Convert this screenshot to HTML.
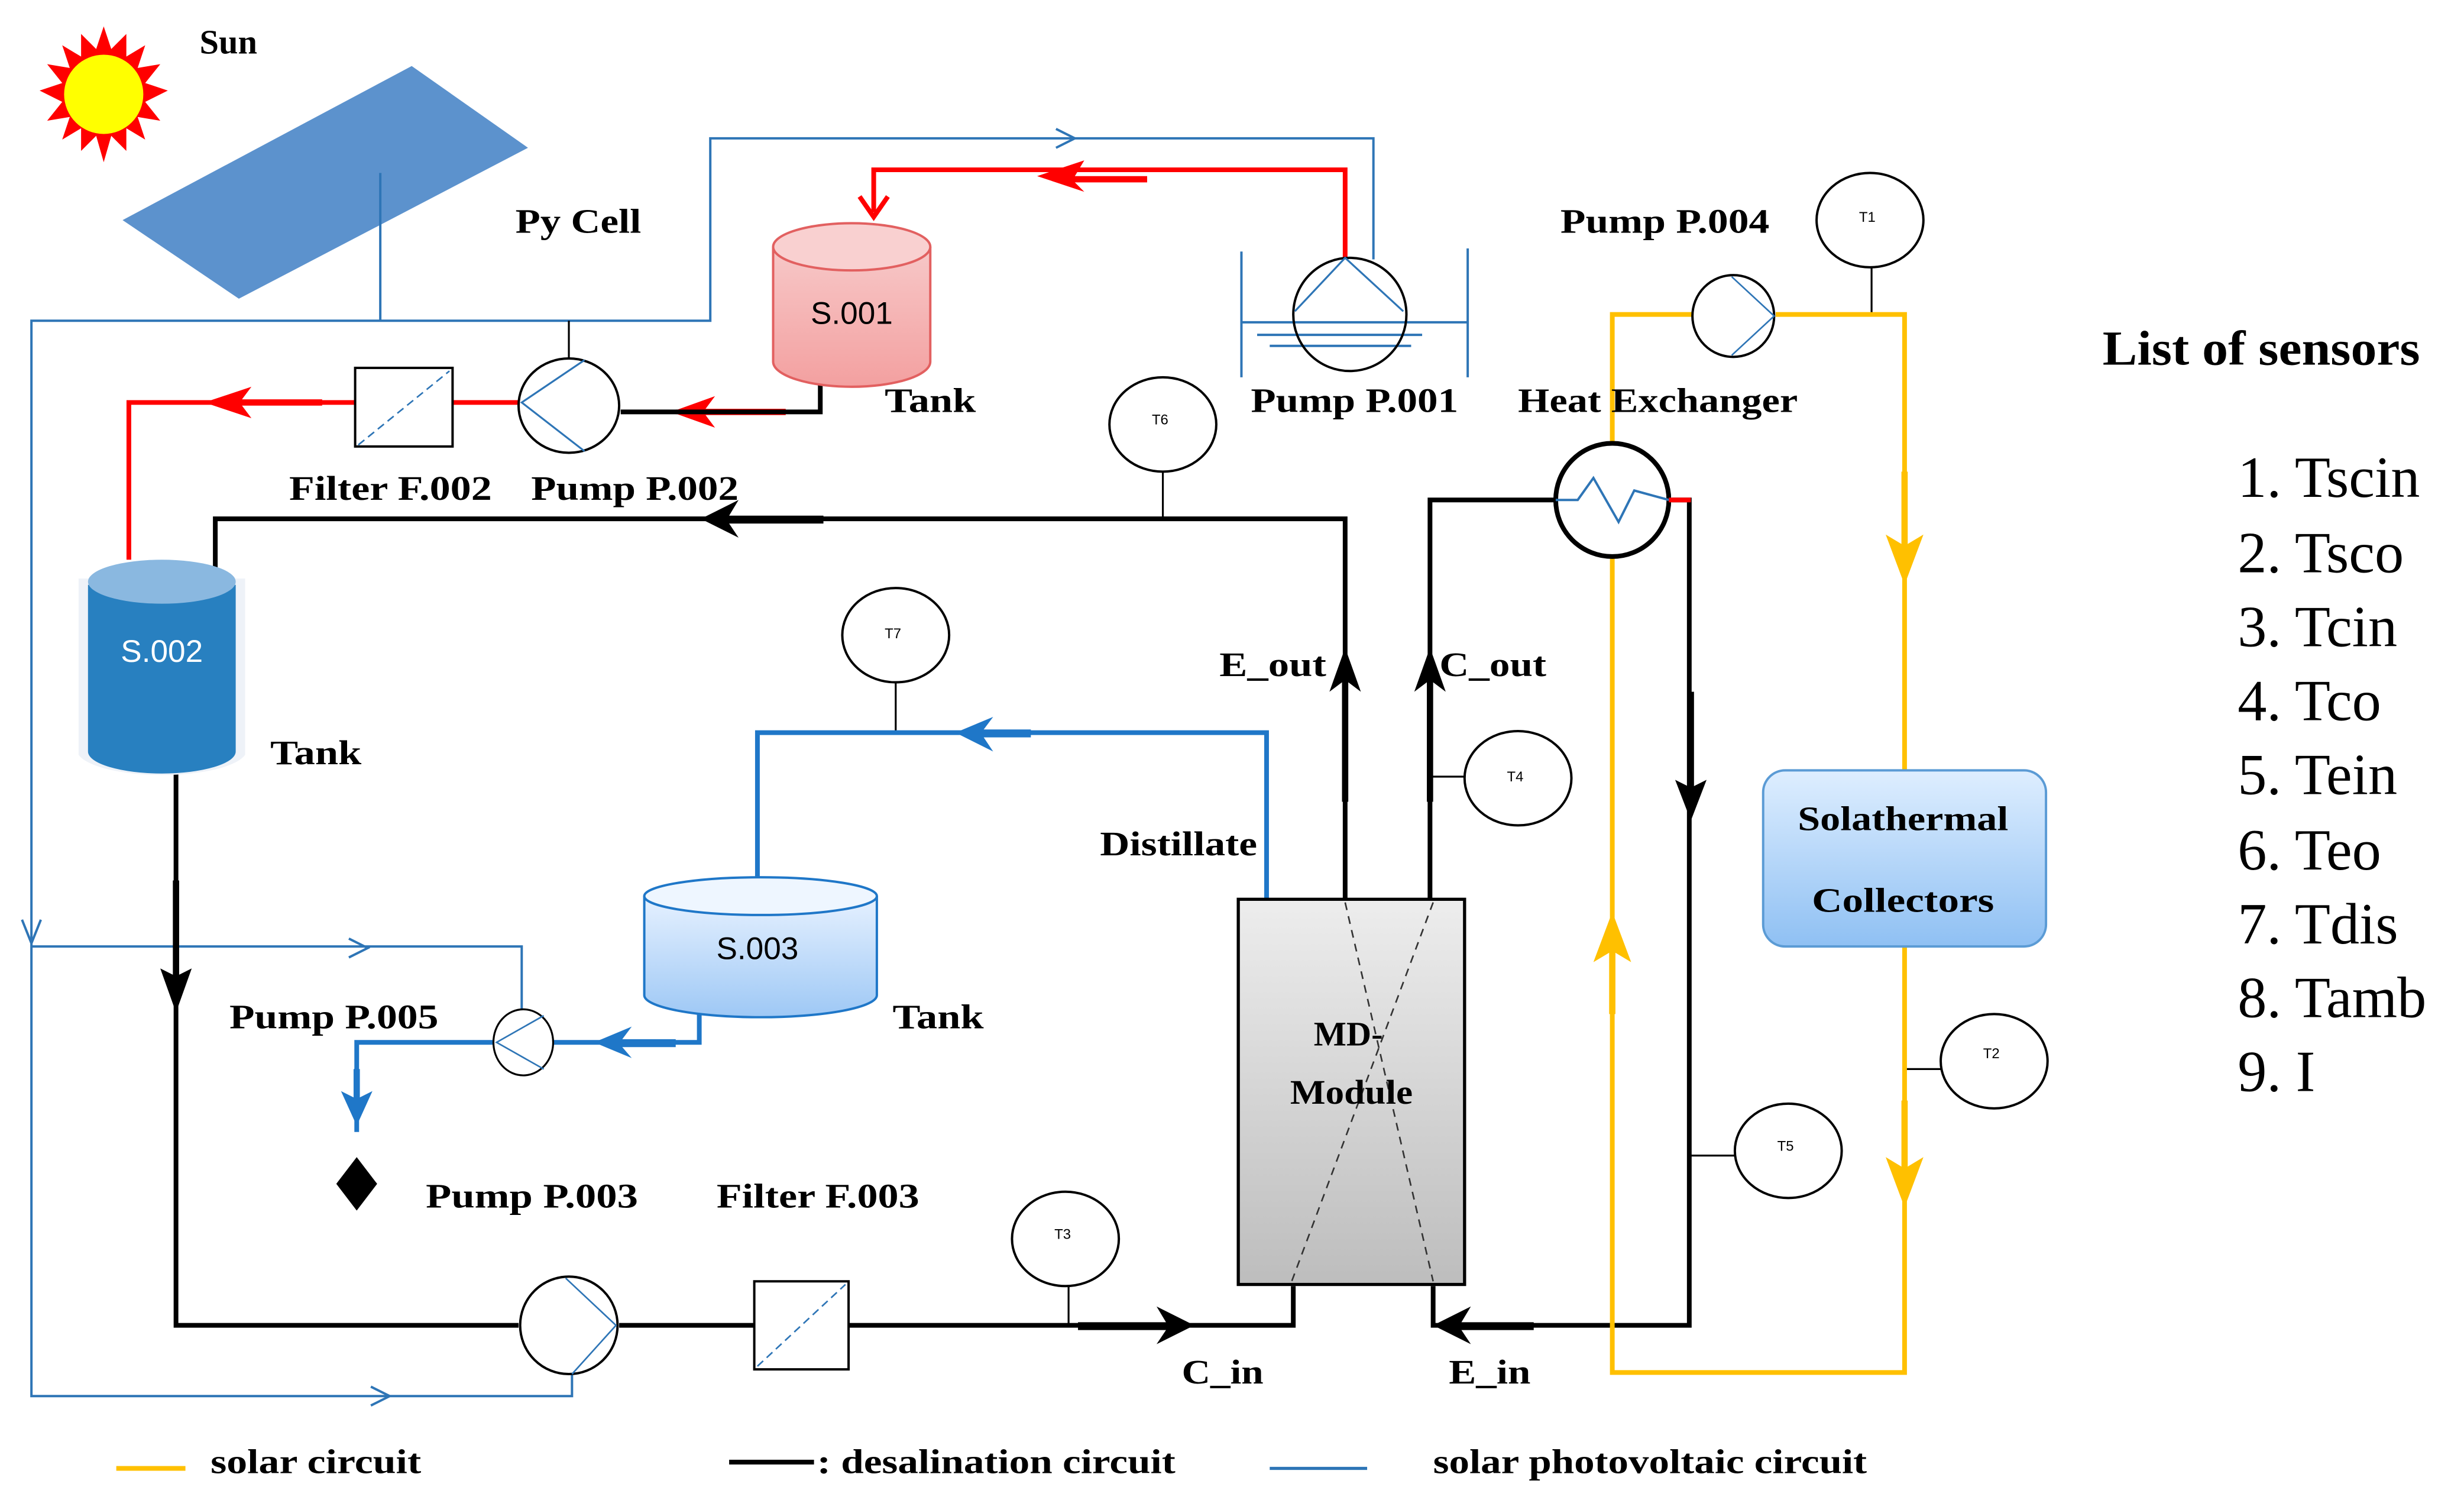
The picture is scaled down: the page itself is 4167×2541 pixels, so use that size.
<!DOCTYPE html>
<html><head><meta charset="utf-8"><style>
html,body{margin:0;padding:0;background:#fff;}
svg{display:block;}
.t{font-family:"Liberation Serif",serif;font-weight:bold;font-size:22px;fill:#000;}
.s{font-family:"Liberation Sans",sans-serif;font-size:9px;fill:#000;}
.l{font-family:"Liberation Serif",serif;font-size:37px;fill:#000;}
</style></head><body>
<svg width="4167" height="2541" viewBox="0 0 1568 956" preserveAspectRatio="none" xmlns="http://www.w3.org/2000/svg">
<defs>
<linearGradient id="gr" x1="0" y1="0" x2="0" y2="1"><stop offset="0" stop-color="#f7c8c8"/><stop offset="1" stop-color="#f3a0a0"/></linearGradient>
<linearGradient id="gb" x1="0" y1="0" x2="0" y2="1"><stop offset="0" stop-color="#e6f1ff"/><stop offset="1" stop-color="#9ec8f5"/></linearGradient>
<linearGradient id="gc" x1="0" y1="0" x2="0" y2="1"><stop offset="0" stop-color="#deeeff"/><stop offset="1" stop-color="#8fc0f3"/></linearGradient>
<linearGradient id="gm" x1="0" y1="0" x2="0" y2="1"><stop offset="0" stop-color="#ededed"/><stop offset="1" stop-color="#bdbdbd"/></linearGradient>
</defs>
<!-- Sun -->
<g transform="translate(66,60) scale(1.2) translate(-66,-56)">
<polygon fill="#f00" points="66,20 70,32 78,24 78,36 88,30 84,42 96,40 88,50 100,54 88,60 96,70 84,68 88,80 78,74 78,86 70,78 66,92 62,78 54,86 54,74 44,80 48,68 36,70 44,60 32,54 44,50 36,40 48,42 44,30 54,36 54,24 62,32"/>
<circle cx="66" cy="56" r="21" fill="#ff0"/>
</g>
<text class="t" x="127" y="34">Sun</text>
<!-- PV panel -->
<polygon points="262,42 336,94 152,190 78,140" fill="#4a86c8" opacity="0.9"/>
<text class="t" x="328" y="148" textLength="80" lengthAdjust="spacingAndGlyphs">Py Cell</text>
<!-- PV blue circuit -->
<g stroke="#2e75b6" stroke-width="1.5" fill="none">
<polyline points="242,110 242,204"/>
<polyline points="20,600 20,204 452,204 452,88 874,88 874,165"/>
<polyline points="20,600 20,888 364,888 364,870"/>
<polyline points="20,602 332,602 332,645"/>
<polyline points="672,82 684,88 672,94"/>
<polyline points="222,597 234,603 222,609"/>
<polyline points="236,882 248,888 236,894"/>
<polyline points="14,585 20,600 26,585"/>
<line x1="790" y1="160" x2="790" y2="240"/><line x1="934" y1="158" x2="934" y2="240"/>
<line x1="790" y1="205" x2="934" y2="205"/><line x1="800" y1="213" x2="905" y2="213"/><line x1="808" y1="220" x2="898" y2="220"/>
</g>
<line x1="362" y1="204" x2="362" y2="228" stroke="#000" stroke-width="1.2"/>
<!-- Red circuit -->
<g stroke="#f00" stroke-width="3" fill="none">
<polyline points="856,165 856,108 556,108 556,135"/>
<polyline points="547,125 556,138 565,125"/>
<polyline points="330,256 288,256"/><polyline points="226,256 82,256 82,356"/>
<polyline points="500,262 430,262"/>
</g>
<polygon points="660,112 690,102 684,112 730,112 730,116 684,116 690,122" fill="#f00"/>
<polygon points="130,256 160,246 154,254 205,254 205,258 154,258 160,266" fill="#f00"/>
<polygon points="427,262 455,252 449,260 500,260 500,264 449,264 455,272" fill="#f00"/>
<polyline points="395,262 522,262 522,245" stroke="#000" stroke-width="3" fill="none"/>
<!-- Tank S.001 -->
<path d="M492,157 L492,230 A50,16 0 0 0 592,230 L592,157" fill="url(#gr)" stroke="#e26060" stroke-width="1.5"/>
<ellipse cx="542" cy="157" rx="50" ry="15" fill="#f9d0d0" stroke="#e26060" stroke-width="1.5"/>
<text x="542" y="206" text-anchor="middle" style="font-family:'Liberation Sans',sans-serif;font-size:20px">S.001</text>
<text class="t" x="563" y="262" textLength="58" lengthAdjust="spacingAndGlyphs">Tank</text>
<!-- Pump P.001 -->
<ellipse cx="859" cy="200" rx="36" ry="36" fill="none" stroke="#000" stroke-width="1.5"/>
<polyline points="824,198 856,164 893,198" fill="none" stroke="#2e75b6" stroke-width="1.2"/>
<text class="t" x="796" y="262" textLength="132" lengthAdjust="spacingAndGlyphs">Pump P.001</text>
<!-- Filter F.002 + Pump P.002 -->
<rect x="226" y="234" width="62" height="50" fill="#fff" stroke="#000" stroke-width="1.5"/>
<line x1="228" y1="283" x2="286" y2="236" stroke="#2e75b6" stroke-dasharray="5,3"/>
<ellipse cx="362" cy="258" rx="32" ry="30" fill="#fff" stroke="#000" stroke-width="1.5"/>
<polyline points="372,229 332,256 372,287" fill="none" stroke="#2e75b6" stroke-width="1.2"/>
<text class="t" x="184" y="318" textLength="129" lengthAdjust="spacingAndGlyphs">Filter F.002</text>
<text class="t" x="338" y="318" textLength="132" lengthAdjust="spacingAndGlyphs">Pump P.002</text>
<!-- Black desal circuit -->
<g stroke="#000" stroke-width="3" fill="none">
<polyline points="137,362 137,330 856,330 856,572"/>
<polyline points="910,572 910,318 990,318"/>
<polyline points="112,490 112,843 330,843"/>
<polyline points="394,843 480,843"/><polyline points="540,843 750,843 823,843 823,818"/>
<polyline points="912,818 912,843 1075,843 1075,505"/>
<polyline points="1064,318 1075,318 1075,500"/>
</g>
<line x1="740" y1="300" x2="740" y2="330" stroke="#000" stroke-width="1.2"/>
<polygon points="446,330 470,318 464,328 524,328 524,333 464,333 470,342" fill="#000"/>
<polygon points="856,412 846,440 854,434 854,510 858,510 858,434 866,440" fill="#000"/>
<polygon points="910,412 900,440 908,434 908,510 912,510 912,434 920,440" fill="#000"/>
<polygon points="112,644 102,616 110,620 110,560 114,560 114,620 122,616" fill="#000"/>
<polygon points="1076,522 1066,496 1074,500 1074,440 1078,440 1078,500 1086,496" fill="#000"/>
<polygon points="760,843 736,831 742,841 686,841 686,846 742,846 736,855" fill="#000"/>
<polygon points="912,843 936,831 930,841 976,841 976,846 930,846 936,855" fill="#000"/>
<line x1="910" y1="494" x2="934" y2="494" stroke="#000" stroke-width="1.2"/>
<line x1="1075" y1="735" x2="1104" y2="735" stroke="#000" stroke-width="1.2"/>
<line x1="1212" y1="680" x2="1236" y2="680" stroke="#000" stroke-width="1.2"/>
<line x1="680" y1="815" x2="680" y2="843" stroke="#000" stroke-width="1.2"/>
<line x1="570" y1="432" x2="570" y2="466" stroke="#000" stroke-width="1.2"/>
<line x1="1191" y1="170" x2="1191" y2="200" stroke="#000" stroke-width="1.2"/>
<!-- Tank S.002 -->
<path d="M50,368 L50,480 A54,16 0 0 0 156,480 L156,368" fill="#eef2f8"/>
<path d="M56,372 L56,478 A47,14 0 0 0 150,478 L150,372" fill="#2880c0"/>
<ellipse cx="103" cy="370" rx="47" ry="14" fill="#8ab8e0"/>
<text x="103" y="421" text-anchor="middle" style="font-family:'Liberation Sans',sans-serif;font-size:20px;fill:#fff">S.002</text>
<text class="t" x="172" y="486" textLength="58" lengthAdjust="spacingAndGlyphs">Tank</text>
<!-- Blue distillate -->
<g stroke="#1f77c8" stroke-width="3" fill="none">
<polyline points="806,572 806,466 482,466 482,560"/>
<polyline points="445,645 445,663 352,663"/>
<polyline points="314,663 227,663 227,720"/>
</g>
<polygon points="608,466 632,456 626,464 656,464 656,469 626,469 632,478" fill="#1f77c8"/>
<polygon points="378,663 402,653 396,661 430,661 430,666 396,666 402,673" fill="#1f77c8"/>
<polygon points="227,716 217,694 225,698 225,680 229,680 229,698 237,694" fill="#1f77c8"/>
<!-- Tank S.003 -->
<path d="M410,570 L410,633 A74,14 0 0 0 558,633 L558,570" fill="url(#gb)" stroke="#1f77c8" stroke-width="1.5"/>
<ellipse cx="484" cy="570" rx="74" ry="12" fill="#eef6ff" stroke="#1f77c8" stroke-width="1.5"/>
<text x="482" y="610" text-anchor="middle" style="font-family:'Liberation Sans',sans-serif;font-size:20px">S.003</text>
<text class="t" x="568" y="654" textLength="58" lengthAdjust="spacingAndGlyphs">Tank</text>
<!-- Pump P.005 -->
<ellipse cx="333" cy="663" rx="19" ry="21" fill="#fff" stroke="#000" stroke-width="1.2"/>
<polyline points="346,646 316,663 346,680" fill="none" stroke="#2e75b6"/>
<text class="t" x="146" y="654" textLength="133" lengthAdjust="spacingAndGlyphs">Pump P.005</text>
<polygon points="227,736 240,753 227,770 214,753" fill="#000"/>
<text class="t" x="271" y="768" textLength="135" lengthAdjust="spacingAndGlyphs">Pump P.003</text>
<text class="t" x="456" y="768" textLength="129" lengthAdjust="spacingAndGlyphs">Filter F.003</text>
<!-- Pump P.003 & Filter F.003 -->
<ellipse cx="362" cy="843" rx="31" ry="31" fill="#fff" stroke="#000" stroke-width="1.5"/>
<polyline points="360,813 392,843 364,874" fill="none" stroke="#2e75b6"/>
<rect x="480" y="815" width="60" height="56" fill="#fff" stroke="#000" stroke-width="1.5"/>
<line x1="482" y1="869" x2="538" y2="817" stroke="#2e75b6" stroke-dasharray="5,3"/>
<!-- MD module -->
<rect x="788" y="572" width="144" height="245" fill="url(#gm)" stroke="#000" stroke-width="2"/>
<line x1="856" y1="574" x2="912" y2="815" stroke="#333" stroke-dasharray="5,4"/>
<line x1="912" y1="574" x2="822" y2="815" stroke="#333" stroke-dasharray="5,4"/>
<text class="t" x="858" y="665" text-anchor="middle">MD-</text>
<text class="t" x="860" y="702" text-anchor="middle" textLength="78" lengthAdjust="spacingAndGlyphs">Module</text>
<text class="t" x="776" y="430" textLength="68" lengthAdjust="spacingAndGlyphs">E_out</text>
<text class="t" x="916" y="430" textLength="68" lengthAdjust="spacingAndGlyphs">C_out</text>
<text class="t" x="700" y="544" textLength="100" lengthAdjust="spacingAndGlyphs">Distillate</text>
<text class="t" x="752" y="880" textLength="52" lengthAdjust="spacingAndGlyphs">C_in</text>
<text class="t" x="922" y="880" textLength="52" lengthAdjust="spacingAndGlyphs">E_in</text>
<!-- Solar yellow circuit -->
<g stroke="#ffc000" stroke-width="3" fill="none">
<polyline points="1026,318 1026,200 1078,200"/><polyline points="1130,200 1212,200 1212,490"/>
<polyline points="1026,340 1026,873 1212,873 1212,602"/>
</g>
<polygon points="1212,372 1200,340 1210,346 1210,300 1214,300 1214,346 1224,340" fill="#ffc000"/>
<polygon points="1212,768 1200,736 1210,742 1210,700 1214,700 1214,742 1224,736" fill="#ffc000"/>
<polygon points="1026,580 1014,612 1024,606 1024,645 1028,645 1028,606 1038,612" fill="#ffc000"/>
<rect x="1122" y="490" width="180" height="112" rx="14" fill="url(#gc)" stroke="#5b9bd5" stroke-width="1.5"/>
<text class="t" x="1211" y="528" text-anchor="middle" textLength="134" lengthAdjust="spacingAndGlyphs">Solathermal</text>
<text class="t" x="1211" y="580" text-anchor="middle" textLength="116" lengthAdjust="spacingAndGlyphs">Collectors</text>
<!-- Pump P.004 -->
<circle cx="1103" cy="201" r="26" fill="#fff" stroke="#000" stroke-width="1.5"/>
<polyline points="1102,176 1129,201 1102,226" fill="none" stroke="#2e75b6"/>
<text class="t" x="993" y="148" textLength="133" lengthAdjust="spacingAndGlyphs">Pump P.004</text>
<!-- Heat exchanger -->
<circle cx="1026" cy="318" r="36" fill="#fff" stroke="#000" stroke-width="3"/>
<polyline points="990,318 1004,318 1014,304 1030,332 1040,312 1062,318" fill="none" stroke="#2e75b6" stroke-width="1.5"/>
<line x1="1062" y1="318" x2="1076" y2="318" stroke="#f00" stroke-width="3"/>
<text class="t" x="966" y="262" textLength="178" lengthAdjust="spacingAndGlyphs">Heat Exchanger</text>
<!-- sensors -->
<g fill="#fff" stroke="#000" stroke-width="1.5">
<ellipse cx="1190" cy="140" rx="34" ry="30"/>
<ellipse cx="740" cy="270" rx="34" ry="30"/>
<ellipse cx="570" cy="404" rx="34" ry="30"/>
<ellipse cx="966" cy="495" rx="34" ry="30"/>
<ellipse cx="1269" cy="675" rx="34" ry="30"/>
<ellipse cx="1138" cy="732" rx="34" ry="30"/>
<ellipse cx="678" cy="788" rx="34" ry="30"/>
</g>
<text class="s" x="1183" y="141">T1</text><text class="s" x="733" y="270">T6</text><text class="s" x="563" y="406">T7</text>
<text class="s" x="959" y="497">T4</text><text class="s" x="1262" y="673">T2</text><text class="s" x="1131" y="732">T5</text><text class="s" x="671" y="788">T3</text>
<!-- list -->
<text class="t" x="1338" y="232" style="font-size:31px" textLength="202" lengthAdjust="spacingAndGlyphs">List of sensors</text>
<text class="l" x="1424" y="316">1. Tscin</text>
<text class="l" x="1424" y="364">2. Tsco</text>
<text class="l" x="1424" y="411">3. Tcin</text>
<text class="l" x="1424" y="458">4. Tco</text>
<text class="l" x="1424" y="505">5. Tein</text>
<text class="l" x="1424" y="553">6. Teo</text>
<text class="l" x="1424" y="600">7. Tdis</text>
<text class="l" x="1424" y="647">8. Tamb</text>
<text class="l" x="1424" y="694">9.  I</text>
<!-- legend -->
<line x1="74" y1="934" x2="118" y2="934" stroke="#ffc000" stroke-width="3"/>
<text class="t" x="134" y="937" textLength="134" lengthAdjust="spacingAndGlyphs">solar circuit</text>
<line x1="464" y1="930" x2="518" y2="930" stroke="#000" stroke-width="3"/>
<text class="t" x="520" y="937" textLength="228" lengthAdjust="spacingAndGlyphs">: desalination circuit</text>
<line x1="808" y1="934" x2="870" y2="934" stroke="#2e75b6" stroke-width="2"/>
<text class="t" x="912" y="937" textLength="276" lengthAdjust="spacingAndGlyphs">solar photovoltaic circuit</text>
</svg>
</body></html>
